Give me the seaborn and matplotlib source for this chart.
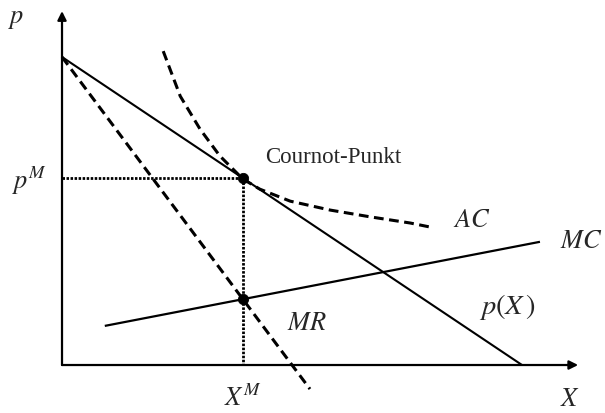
import matplotlib
matplotlib.use("Agg")
import matplotlib.pyplot as plt
import seaborn as sns
import pandas as pd

# ---- data (economic units) ----
demand_x = [0.0, 10.0]
demand_p = [10.0, 0.0]
mr_x = [0.0, 5.39]
mr_p = [10.0, -0.78]
mc_x = [0.93, 10.39]
mc_p = [1.27, 4.00]
ac_x = [2.20, 2.57, 3.00, 3.43, 3.93, 4.30, 4.96, 5.83, 6.70, 7.57, 8.00]
ac_p = [10.19, 8.73, 7.66, 6.79, 6.04, 5.71, 5.32, 5.03, 4.81, 4.61, 4.48]
x_m = 3.93
p_m = 6.07
mr_at_xm = 2.14
x_axis_end = 11.22
y_axis_end = 11.49

sns.set_style("white")
plt.rcParams["mathtext.fontset"] = "stix"
plt.rcParams["font.family"] = ["Liberation Serif", "DejaVu Serif"]

fig = plt.figure(figsize=(6.05, 4.14), dpi=100)
ax = fig.add_axes([0, 0, 1, 1])
ax.set_xlim(-1.348, 11.804)
ax.set_ylim(-1.558, 11.883)
ax.axis("off")

def draw(xs, ys, lw, ls="-"):
    df = pd.DataFrame({"x": xs, "y": ys})
    sns.lineplot(data=df, x="x", y="y", ax=ax, color="black", lw=lw,
                 sort=False, estimator=None, legend=False)
    ln = ax.lines[-1]
    ln.set_linestyle(ls)
    ln.set_solid_capstyle("butt")
    ln.set_dash_capstyle("butt")
    return ln

# axes with arrows
ax.annotate("", xy=(x_axis_end, 0), xytext=(0, 0),
            arrowprops=dict(arrowstyle="-|>", lw=1.6, color="black",
                            mutation_scale=13, shrinkA=0, shrinkB=0))
ax.annotate("", xy=(0, y_axis_end), xytext=(0, 0),
            arrowprops=dict(arrowstyle="-|>", lw=1.6, color="black",
                            mutation_scale=13, shrinkA=0, shrinkB=0))

# curves
draw(demand_x, demand_p, 1.5)
draw(mr_x, mr_p, 2.2, (0, (3.2, 1.8)))
draw(mc_x, mc_p, 1.6)
draw(ac_x, ac_p, 2.2, (0, (3.2, 1.8)))

# dotted guide lines
draw([0, x_m], [p_m, p_m], 2.0, (0, (0.9, 0.55)))
draw([x_m, x_m], [p_m, 0], 2.0, (0, (0.9, 0.55)))

# points
sns.scatterplot(x=[x_m, x_m], y=[p_m, mr_at_xm], ax=ax, color="black",
                s=55, edgecolor="black", zorder=5, legend=False)

# labels
fs = 19
ax.text(-1.0, 11.23, r"$p$", fontsize=fs, ha="center", va="center")
ax.text(-0.70, 6.0, r"$p^{M}$", fontsize=fs, ha="center", va="center")
ax.text(x_m, -1.05, r"$X^{M}$", fontsize=fs, ha="center", va="center")
ax.text(11.05, -1.10, r"$X$", fontsize=fs, ha="center", va="center")
ax.text(8.91, 4.71, r"$AC$", fontsize=fs, ha="center", va="center")
ax.text(11.28, 4.02, r"$MC$", fontsize=fs, ha="center", va="center")
ax.text(5.33, 1.36, r"$MR$", fontsize=fs, ha="center", va="center")
ax.text(9.68, 1.93, r"$p(X\,)$", fontsize=20.5, ha="center", va="center")
ax.text(5.89, 6.78, "Cournot-Punkt", fontsize=16.5, ha="center", va="center")

fig.savefig("out.png", dpi=100)
